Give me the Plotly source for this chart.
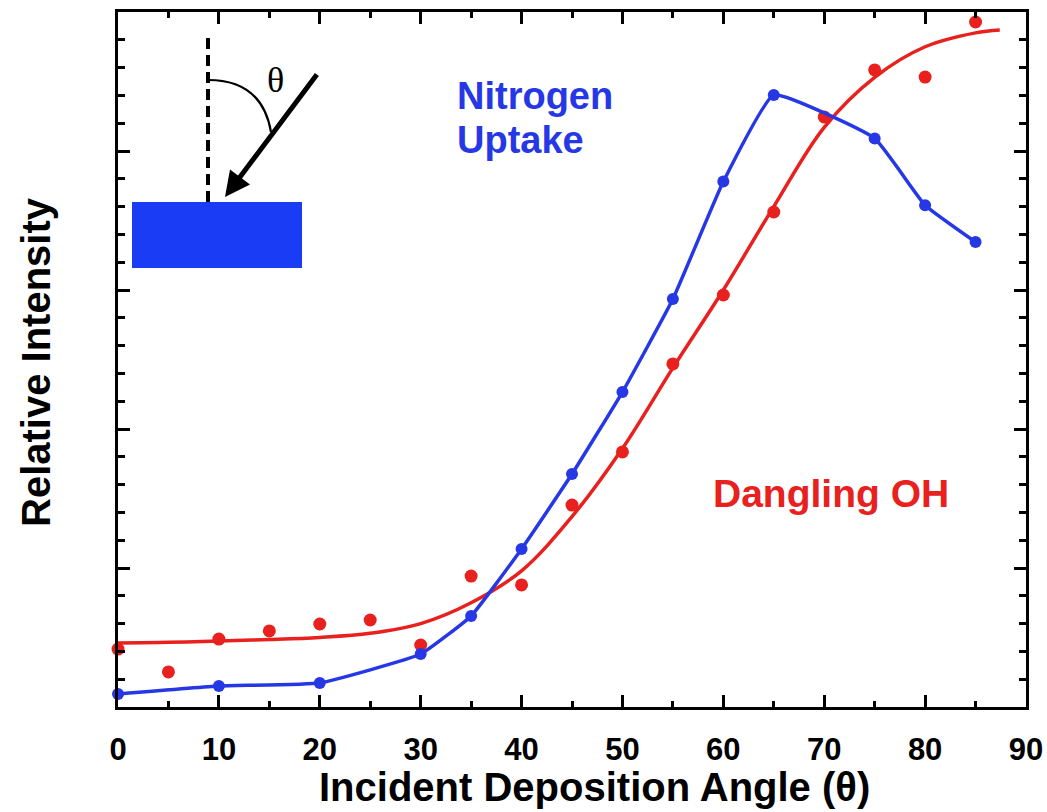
import plotly.graph_objects as go

# ---- data ----
blue_x = [0, 10, 20, 30, 35, 40, 45, 50, 55, 60, 65, 75, 80, 85]
blue_y = [0.094, 0.151, 0.173, 0.381, 0.655, 1.137, 1.676, 2.266, 2.935, 3.780, 4.403, 4.090, 3.610, 3.345]

red_x = [0, 5, 10, 15, 20, 25, 30, 35, 40, 45, 50, 55, 60, 65, 70, 75, 80, 85]
red_y = [0.417, 0.252, 0.489, 0.547, 0.597, 0.626, 0.446, 0.942, 0.878, 1.453, 1.835, 2.468, 2.964, 3.561, 4.245, 4.583, 4.532, 4.928]

fit_x = [0, 5, 10, 15, 20, 25, 30, 35, 40, 45, 50, 55, 60, 65, 70, 75, 80, 85, 87.4]
fit_y = [0.46, 0.465, 0.475, 0.485, 0.50, 0.53, 0.60, 0.75, 0.98, 1.37, 1.86, 2.44, 3.0, 3.6, 4.17, 4.53, 4.75, 4.85, 4.87]

x_ticks = [0, 10, 20, 30, 40, 50, 60, 70, 80, 90]

BLUE = "#2638e6"
RED = "#e8201e"
FONT = "Liberation Sans, Arial, sans-serif"

# plot area in pixels
L, R, T, B = 118, 1026, 12, 707
W, H = 1047, 812


def px(xp, yp):
    return (xp - L) / (R - L), (B - yp) / (B - T)


fig = go.Figure()
fig.add_trace(go.Scatter(x=fit_x, y=fit_y, mode="lines",
                         line=dict(color=RED, width=3.5, shape="spline", smoothing=1.0),
                         hoverinfo="skip", showlegend=False))
fig.add_trace(go.Scatter(x=red_x, y=red_y, mode="markers",
                         marker=dict(color=RED, size=13), cliponaxis=False,
                         showlegend=False))
fig.add_trace(go.Scatter(x=blue_x, y=blue_y, mode="lines+markers",
                         line=dict(color=BLUE, width=3.5, shape="spline", smoothing=0.35),
                         marker=dict(color=BLUE, size=12), cliponaxis=False,
                         showlegend=False))

axis_common = dict(showline=True, linecolor="black", linewidth=3, mirror="ticks",
                   ticks="inside", tickcolor="black", tickwidth=2.5,
                   showgrid=False, zeroline=False)

fig.update_xaxes(range=[0, 90], tickvals=x_ticks, ticklen=12,
                 minor=dict(dtick=5, ticks="inside", ticklen=6, tickcolor="black", tickwidth=2.5),
                 tickfont=dict(family=FONT, size=31, color="black", weight="bold"),
                 ticklabelstandoff=13,
                 **axis_common)
fig.update_yaxes(range=[0, 5], dtick=1, ticklen=12, showticklabels=False,
                 minor=dict(dtick=0.2, ticks="inside", ticklen=7, tickcolor="black", tickwidth=2.5),
                 **axis_common)

shapes = []
# substrate rectangle
x0, y0 = px(132, 268)
x1, y1 = px(302, 202)
shapes.append(dict(type="rect", xref="paper", yref="paper", x0=x0, y0=y0, x1=x1, y1=y1,
                   fillcolor="#1a3cf5", line=dict(width=0)))
# dashed normal
xa, ya = px(208, 202)
xb, yb = px(208, 33)
shapes.append(dict(type="line", xref="paper", yref="paper", x0=xa, y0=ya, x1=xb, y1=yb,
                   line=dict(color="black", width=4, dash="11px,6px")))
# angle arc
p0 = px(208, 80)
pc = px(262, 80)
p1 = px(271, 132)
shapes.append(dict(type="path", xref="paper", yref="paper",
                   path=f"M {p0[0]},{p0[1]} Q {pc[0]},{pc[1]} {p1[0]},{p1[1]}",
                   line=dict(color="black", width=2.2)))

annotations = []
tip = px(225, 197)
annotations.append(dict(xref="paper", yref="paper", x=tip[0], y=tip[1], ax=93, ay=-124,
                        axref="pixel", ayref="pixel", text="", showarrow=True,
                        arrowhead=2, arrowsize=1.0, arrowwidth=5, arrowcolor="black"))
tp = px(265, 58)
annotations.append(dict(xref="paper", yref="paper", x=tp[0], y=tp[1], text="θ", showarrow=False,
                        font=dict(family="Liberation Serif, DejaVu Serif, serif", size=36, color="black")))

p = px(455, 96)
annotations.append(dict(xref="paper", yref="paper", x=p[0], y=p[1], text="Nitrogen", showarrow=False,
                        xanchor="left", yanchor="middle",
                        font=dict(family=FONT, size=38, color=BLUE, weight="bold")))
p = px(455, 140)
annotations.append(dict(xref="paper", yref="paper", x=p[0], y=p[1], text="Uptake", showarrow=False,
                        xanchor="left", yanchor="middle",
                        font=dict(family=FONT, size=38, color=BLUE, weight="bold")))
p = px(711, 493)
annotations.append(dict(xref="paper", yref="paper", x=p[0], y=p[1], text="Dangling OH", showarrow=False,
                        xanchor="left", yanchor="middle",
                        font=dict(family=FONT, size=39, color=RED, weight="bold")))
p = px(594, 787)
annotations.append(dict(xref="paper", yref="paper", x=p[0], y=p[1], text="Incident Deposition Angle (θ)",
                        showarrow=False, xanchor="center", yanchor="middle",
                        font=dict(family=FONT, size=40, color="black", weight="bold")))
p = px(36, 362)
annotations.append(dict(xref="paper", yref="paper", x=p[0], y=p[1], text="Relative Intensity",
                        showarrow=False, xanchor="center", yanchor="middle", textangle=-90,
                        font=dict(family=FONT, size=40, color="black", weight="bold")))

fig.update_layout(width=W, height=H,
                  margin=dict(l=L, r=W - R, t=T, b=H - B, autoexpand=False),
                  paper_bgcolor="white", plot_bgcolor="white",
                  shapes=shapes, annotations=annotations, showlegend=False)

fig.write_html("out.html")
